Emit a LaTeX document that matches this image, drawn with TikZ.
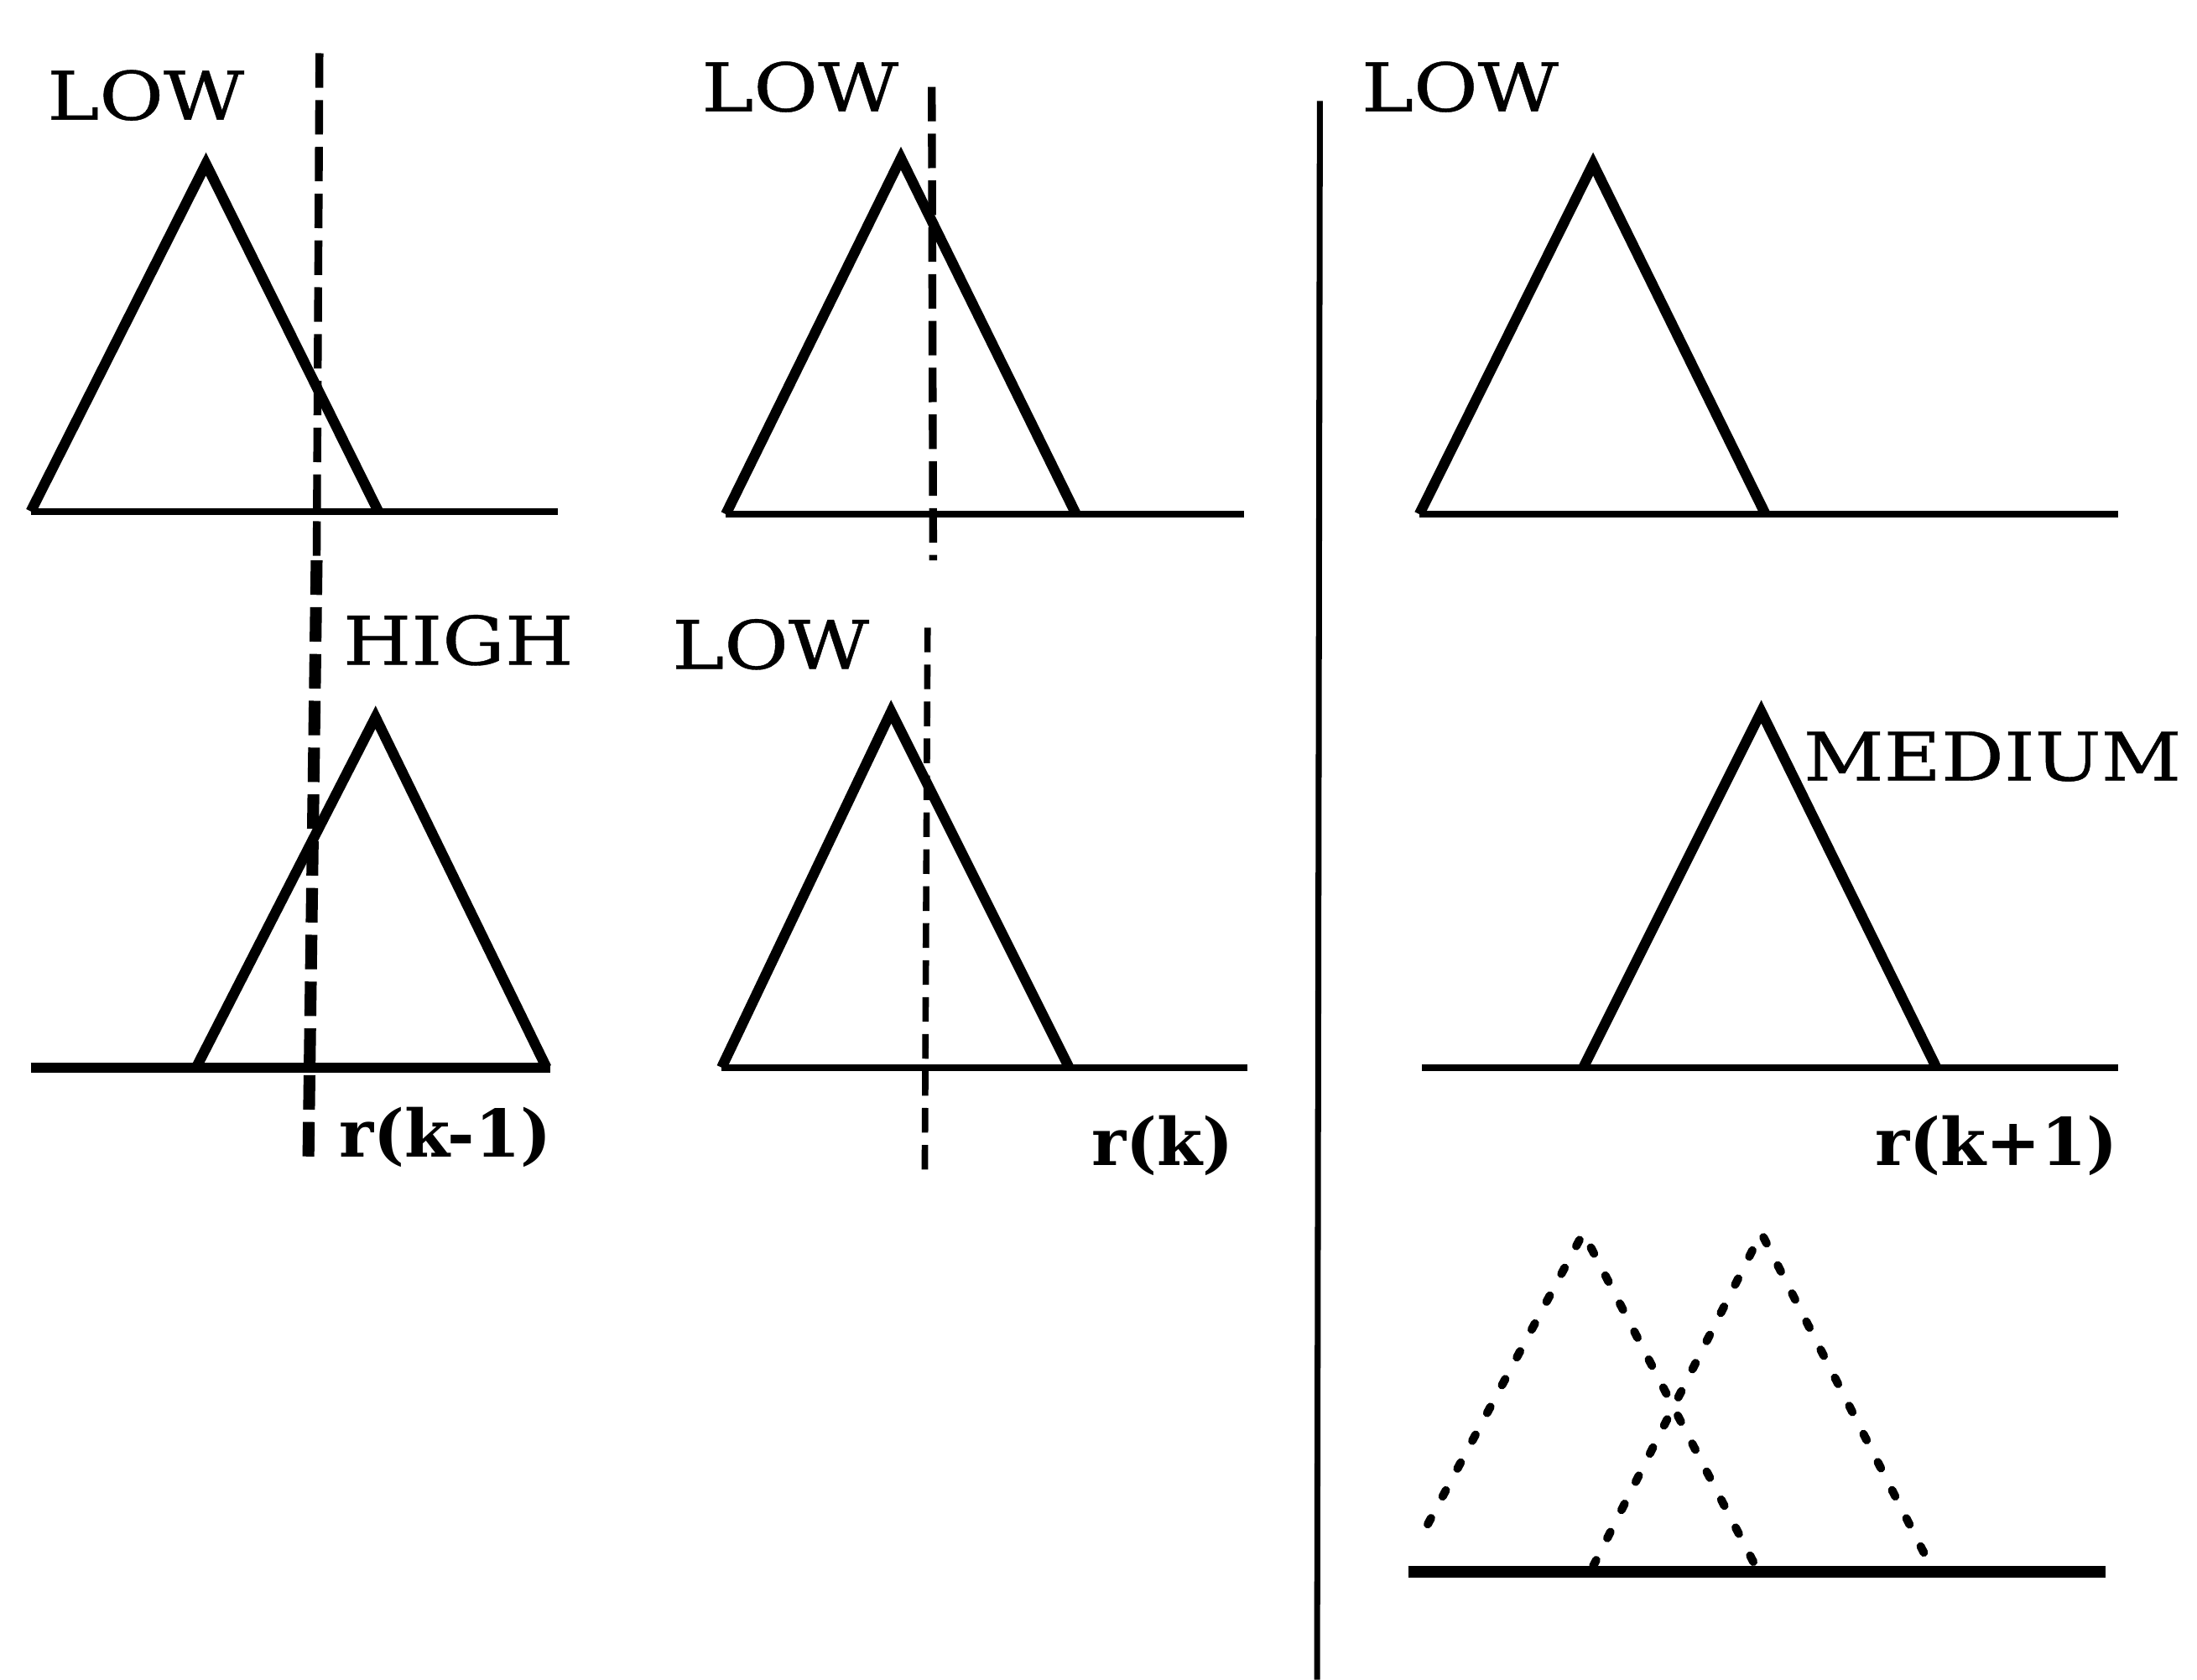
\documentclass[tikz,border=0pt]{standalone}
\usepackage{fontspec}
\usepackage{graphicx}
\setmainfont{DejaVu Serif}
\newfontfamily\heavyfont{DejaVu Serif}[FakeBold=0.5]
\newcommand{\wide}[1]{\scalebox{1.17}[1]{#1}}
\begin{document}
\begin{tikzpicture}[x=0.01cm,y=-0.01cm,
  tri/.style={line width=2.1pt, line join=miter},
  base/.style={line width=1.4pt},
  vdash/.style={line width=1.6pt, dash pattern=on 7pt off 2.5pt},
  dottri/.style={line width=1.7pt, dash pattern=on 1.4pt off 5pt, line cap=round},
  sep/.style={line width=1.2pt},
  lbl/.style={font=\fontsize{13.6}{14}\heavyfont, inner sep=0pt},
  lblb/.style={font=\fontsize{13.3}{14}\selectfont\bfseries, inner sep=0pt}]
\useasboundingbox (0,0) rectangle (1568,1199);

% Panel A
\draw[base] (22,365) -- (398,365);
\draw[tri] (22,365) -- (147,117) -- (270,365);
\draw[vdash] (228,38) -- (226,400);
\draw[vdash, line width=2.4pt] (226,400) -- (220,832);

% Panel B
\draw[base, line width=2pt] (22,762) -- (393,762);
\draw[tri] (140,762) -- (268,512) -- (390,762);

% Panel C
\draw[base] (518,367) -- (888,367);
\draw[tri] (518,367) -- (643,113) -- (768,367);
\draw[vdash] (665,62) -- (666,400);

% Panel D
\draw[base] (515,762) -- (890,762);
\draw[tri] (515,762) -- (636,508) -- (763,762);
\draw[vdash, line width=1.3pt, dash pattern=on 5pt off 2.5pt] (662,448) -- (660,842);

% separator
\draw[sep] (942,72) -- (940,1199);

% Panel E
\draw[base] (1013,367) -- (1512,367);
\draw[tri] (1013,367) -- (1137,117) -- (1260,367);

% Panel F
\draw[base] (1015,762) -- (1512,762);
\draw[tri] (1130,762) -- (1257,508) -- (1382,762);

% Panel G
\draw[base, line width=2.4pt] (1005,1122) -- (1503,1122);
\draw[dottri] (1019,1088) -- (1130,880) -- (1253,1118);
\draw[dottri] (1137,1118) -- (1257,880) -- (1378,1118);

% labels
\node[lbl] (lowA) at (104,68) {\wide{LOW}};
\node[lbl] (high) at (327,457) {\wide{HIGH}};
\node[lblb] (rkm1) at (318,812) {r(k-1)};
\node[lbl] (lowC) at (571,62) {\wide{LOW}};
\node[lbl] (lowD) at (550,460) {\wide{LOW}};
\node[lblb] (rk) at (830,818) {r(k)};
\node[lbl] (lowE) at (1042,62) {\wide{LOW}};
\node[lbl] (med) at (1422,540) {\wide{MEDIUM}};
\node[lblb] (rkp1) at (1425,818) {r(k+1)};
\end{tikzpicture}
\end{document}
